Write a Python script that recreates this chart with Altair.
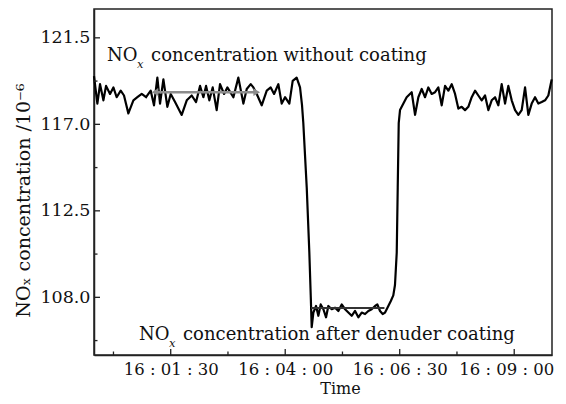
import altair as alt
import pandas as pd

# ---- data (seconds after 16:00:00, concentration in 10^-6) ----
time_s = [
    -10.5, -6.1, -2.6, 1.8, 5.3, 10.5, 14.9, 19.2, 24.5, 28.8, 34.5, 41.1, 46.3, 52.0,
    57.7, 63.8, 68.1, 72.5, 76.0, 80.4, 85.6, 90.0, 95.7, 104.4, 111.0, 117.5, 123.2,
    128.4, 132.8, 136.3, 140.6, 145.0, 150.2, 154.6, 159.9, 164.2, 172.1, 178.6, 185.2,
    189.6, 194.8, 198.3, 202.7, 209.2, 215.8, 221.0, 225.4, 231.0, 235.4, 239.8, 245.4,
    249.8, 255.0, 259.4, 262.0, 263.7, 268.2, 271.6, 273.5, 274.7, 276.9, 280.4, 283.4,
    286.5, 290.0, 293.5, 296.5, 300.9, 305.3, 309.6, 314.0, 318.4, 322.7, 327.1, 331.5,
    335.8, 340.2, 344.6, 348.9, 353.3, 357.7, 360.7, 364.2, 367.7, 370.8, 375.1, 378.2,
    381.6, 383.8, 386.1, 387.4, 388.7, 390.4, 392.6, 399.1, 405.7, 410.1, 414.4, 418.8,
    423.2, 427.5, 431.9, 436.3, 440.6, 445.0, 449.4, 453.7, 458.1, 462.5, 466.8, 471.2,
    475.6, 479.9, 484.3, 488.7, 493.0, 497.4, 501.8, 506.1, 510.5, 514.9, 519.2, 523.6,
    528.0, 532.3, 536.7, 541.1, 545.4, 549.8, 554.2, 558.5, 562.9, 567.3, 571.6, 576.0,
    580.4, 584.7, 589.1,
]
conc = [
    119.51, 118.08, 119.09, 118.25, 119.00, 118.58, 118.92, 118.41, 118.75, 118.50, 117.57,
    118.25, 118.41, 118.58, 118.41, 118.75, 117.99, 119.43, 118.08, 119.34, 117.91, 118.58,
    118.16, 117.49, 118.25, 118.50, 118.16, 119.00, 118.41, 119.00, 118.25, 118.92, 117.74,
    119.09, 118.58, 118.92, 118.41, 119.43, 118.08, 118.84, 119.09, 118.92, 118.58, 117.99,
    118.75, 118.92, 118.58, 119.09, 118.08, 118.41, 118.08, 119.26, 119.43, 118.92, 118.00,
    117.07, 113.71, 110.33, 108.00, 106.45, 107.21, 107.55, 107.04, 107.63, 107.38, 106.96,
    107.55, 107.38, 107.46, 107.29, 107.63, 107.38, 107.21, 107.04, 107.29, 106.96, 107.21,
    107.13, 107.29, 107.38, 107.55, 107.63, 107.29, 107.13, 107.21, 107.55, 107.80, 108.10,
    108.64, 110.33, 113.71, 117.07, 117.74, 117.91, 118.41, 118.67, 117.49, 118.41, 118.84,
    118.41, 118.92, 118.58, 118.67, 118.92, 117.99, 119.00, 118.75, 119.09, 118.58, 117.82,
    117.91, 117.74, 117.91, 118.41, 118.75, 118.50, 118.25, 118.50, 117.74, 118.25, 118.41,
    117.99, 119.09, 118.08, 119.00, 118.25, 117.74, 117.49, 117.74, 118.92, 117.49, 118.08,
    118.41, 118.08, 118.16, 118.25, 118.50, 119.34,
]

upper_mark_t = [69.4, 202.7]
upper_mark_v = [118.67, 118.67]
lower_mark_t = [274.0, 370.0]
lower_mark_v = [107.45, 107.45]

x_major = [90, 240, 390, 540]
x_labels = ["16 : 01 : 30", "16 : 04 : 00", "16 : 06 : 30", "16 : 09 : 00"]
x_minor = [15, 165, 315, 465]
y_major = [108.0, 112.5, 117.0, 121.5]
y_minor = [105.75, 110.25, 114.75, 119.25]

notes_t = [6.6, 48.5]
notes_v = [120.54, 106.03]
notes_rest = ["concentration without coating", "concentration after denuder coating"]

X_DOMAIN = [-10.5, 589.5]
Y_DOMAIN = [105.0, 123.0]
FONT = "DejaVu Serif"
W, H = 458, 346

line_df = pd.DataFrame({"t": time_s, "v": conc})
upper_df = pd.DataFrame({"t": upper_mark_t, "v": upper_mark_v, "shape": ["triangle-left", "triangle-right"]})
lower_df = pd.DataFrame({"t": lower_mark_t, "v": lower_mark_v})
notes_df = pd.DataFrame({"t": notes_t, "v": notes_v, "rest": notes_rest})
xmaj_df = pd.DataFrame({"t": x_major})
xmin_df = pd.DataFrame({"t": x_minor})
ymaj_df = pd.DataFrame({"v": y_major})
ymin_df = pd.DataFrame({"v": y_minor})

xs = alt.Scale(domain=X_DOMAIN, nice=False, zero=False)
ys = alt.Scale(domain=Y_DOMAIN, nice=False, zero=False)

expr_parts = [f"datum.value == {val} ? '{lab}'" for val, lab in zip(x_major, x_labels)]
label_expr = " : ".join(expr_parts) + " : ''"

x_axis = alt.Axis(
    values=x_major, labelExpr=label_expr, ticks=False, grid=False,
    domainColor="#222", domainWidth=1.5, labelFont=FONT, labelFontSize=16.5,
    labelColor="#111", labelPadding=6,
    labelOffset={"condition": {"test": f"datum.value == {x_major[-1]}", "value": -8}, "value": 0},
    title="Time", titleFont=FONT,
    titleFontSize=16, titleFontWeight="normal", titleColor="#111",
    titleX=246, titleY=25, titleBaseline="top", titleAlign="center",
    labelFlush=False,
)
y_axis = alt.Axis(
    values=y_major, format=".1f", ticks=False, grid=False,
    domainColor="#222", domainWidth=1.5, labelFont=FONT, labelFontSize=17.5,
    labelColor="#111", labelPadding=4, title="NOₓ concentration /10⁻⁶",
    titleFont=FONT, titleFontSize=19, titleFontWeight="normal", titleColor="#111",
    titleX=-65, titleY=191, titleBaseline="alphabetic", titleAlign="center", titleAngle=270,
    labelFlush=False,
)

X = alt.X("t:Q", scale=xs, axis=x_axis)
Y = alt.Y("v:Q", scale=ys, axis=y_axis)

main = alt.Chart(line_df).mark_line(color="black", strokeWidth=2.2, strokeJoin="round").encode(x=X, y=Y)

upper_line = alt.Chart(upper_df).mark_line(color="#8c8c8c", strokeWidth=2.5).encode(x=X, y=Y)
upper_heads = alt.Chart(upper_df).mark_point(filled=True, color="#8c8c8c", size=60, opacity=1).encode(
    x=X, y=Y, shape=alt.Shape("shape:N", scale=None))
lower_line = alt.Chart(lower_df).mark_line(color="#333", strokeWidth=2).encode(x=X, y=Y)

txt_base = alt.Chart(notes_df).encode(x=X, y=Y)
txt_no = txt_base.mark_text(align="left", baseline="middle", font=FONT, fontSize=18, color="#111").encode(
    text=alt.value("NO"))
txt_x = txt_base.mark_text(align="left", baseline="middle", font=FONT, fontSize=11.5, fontStyle="italic",
                           color="#111", dx=30, dy=9).encode(text=alt.value("x"))
txt_rest = txt_base.mark_text(align="left", baseline="middle", font=FONT, fontSize=18, color="#111",
                              dx=44).encode(text="rest:N")

xtick_maj = alt.Chart(xmaj_df).mark_rule(color="#222", strokeWidth=1.3).encode(
    x=X, y=alt.value(H), y2=alt.value(H - 6))
xtick_min = alt.Chart(xmin_df).mark_rule(color="#222", strokeWidth=1.3).encode(
    x=X, y=alt.value(H), y2=alt.value(H - 3.5))
ytick_maj = alt.Chart(ymaj_df).mark_rule(color="#222", strokeWidth=1.3).encode(
    y=Y, x=alt.value(0), x2=alt.value(6))
ytick_min = alt.Chart(ymin_df).mark_rule(color="#222", strokeWidth=1.3).encode(
    y=Y, x=alt.value(0), x2=alt.value(3.5))

chart = alt.layer(
    main, upper_line, upper_heads, lower_line, txt_no, txt_x, txt_rest,
    xtick_maj, xtick_min, ytick_maj, ytick_min,
).properties(
    width=W, height=H,
    background="white",
    autosize=alt.AutoSizeParams(type="none"),
    padding={"left": 86, "top": 1, "right": 6, "bottom": 41},
).configure_view(stroke="#222", strokeWidth=1.5)

chart.save("out.html", embed_options={"renderer": "svg", "actions": False})
